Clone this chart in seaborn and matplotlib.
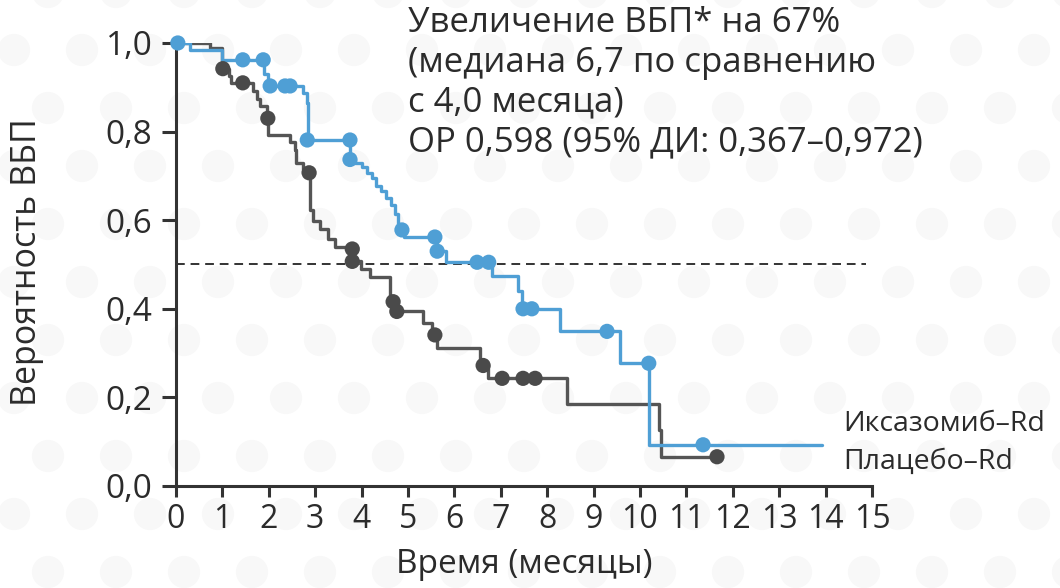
import matplotlib
matplotlib.use("Agg")
import matplotlib.pyplot as plt
import seaborn as sns
import pandas as pd
import numpy as np

sns.set_theme(style="white")
plt.rcParams["font.family"] = ["Open Sans", "DejaVu Sans"]

# Kaplan–Meier step curves (time in months, survival probability)
ixa_time = [0, 0.30, 0.99, 1.90, 1.98, 2.74, 2.82, 2.84, 3.75, 3.86, 4.01, 4.12,
            4.22, 4.31, 4.42, 4.53, 4.63, 4.72, 4.78, 4.91, 5.63, 5.82, 6.81,
            7.37, 7.46, 8.28, 9.57, 10.20, 13.92]
ixa_surv = [1.0, 0.984, 0.962, 0.931, 0.903, 0.887, 0.864, 0.781, 0.737, 0.730,
            0.719, 0.707, 0.696, 0.677, 0.666, 0.650, 0.634, 0.615, 0.578, 0.562,
            0.530, 0.505, 0.473, 0.440, 0.400, 0.349, 0.277, 0.093, 0.093]

pla_time = [0, 0.73, 0.99, 1.14, 1.18, 1.66, 1.75, 1.81, 1.96, 1.99, 2.46, 2.56,
            2.59, 2.74, 2.88, 2.95, 3.10, 3.28, 3.43, 3.80, 3.98, 4.18, 4.61,
            4.64, 4.74, 5.32, 5.52, 5.62, 6.55, 6.60, 6.72, 8.43, 10.41, 10.45,
            11.66]
pla_surv = [1.0, 0.988, 0.942, 0.926, 0.910, 0.892, 0.873, 0.857, 0.830, 0.793,
            0.777, 0.758, 0.730, 0.707, 0.622, 0.599, 0.580, 0.558, 0.539, 0.507,
            0.489, 0.471, 0.427, 0.416, 0.394, 0.367, 0.341, 0.312, 0.283, 0.272,
            0.243, 0.186, 0.126, 0.066, 0.066]

# Censored observations
ixa_cens_time = [0.04, 1.44, 1.88, 2.03, 2.35, 2.46, 2.83, 3.75, 3.75, 4.87,
                 5.58, 5.63, 6.49, 6.74, 7.48, 7.67, 9.29, 10.19, 11.36]
ixa_cens_surv = [1.0, 0.962, 0.962, 0.903, 0.903, 0.903, 0.781, 0.781, 0.737,
                 0.578, 0.562, 0.530, 0.505, 0.505, 0.400, 0.400, 0.349, 0.277,
                 0.093]
pla_cens_time = [1.01, 1.44, 1.98, 2.87, 3.80, 3.80, 4.68, 4.76, 5.58, 6.62,
                 7.03, 7.48, 7.74, 11.66]
pla_cens_surv = [0.942, 0.910, 0.830, 0.707, 0.535, 0.507, 0.416, 0.394, 0.341,
                 0.272, 0.243, 0.243, 0.243, 0.066]

series_labels = ["Иксазомиб–Rd", "Плацебо–Rd"]
x_ticks = list(range(0, 16))
y_ticks = [0.0, 0.2, 0.4, 0.6, 0.8, 1.0]
y_tick_labels = ["0,0", "0,2", "0,4", "0,6", "0,8", "1,0"]
median_level = 0.5
annotation = ("Увеличение ВБП* на 67%\n(медиана 6,7 по сравнению\n"
              "с 4,0 месяца)\nОР 0,598 (95% ДИ: 0,367–0,972)")

BLUE = "#4f9fd5"
GREY = "#555555"
DOT_GREY = "#4a4a4a"
TEXT = "#2b2b2b"

curves = pd.concat([
    pd.DataFrame({"t": ixa_time, "s": ixa_surv, "arm": series_labels[0]}),
    pd.DataFrame({"t": pla_time, "s": pla_surv, "arm": series_labels[1]}),
])
cens = pd.concat([
    pd.DataFrame({"t": ixa_cens_time, "s": ixa_cens_surv, "arm": series_labels[0]}),
    pd.DataFrame({"t": pla_cens_time, "s": pla_cens_surv, "arm": series_labels[1]}),
])
palette = {series_labels[0]: BLUE, series_labels[1]: GREY}
dot_palette = {series_labels[0]: BLUE, series_labels[1]: DOT_GREY}

fig = plt.figure(figsize=(10.6, 5.88), dpi=100)
fig.patch.set_facecolor("white")

# decorative backdrop: very faint polka-dot lattice (pixel coordinates)
bg = fig.add_axes([0, 0, 1, 1], zorder=-5)
bg.set_xlim(0, 1060)
bg.set_ylim(588, 0)
bg.axis("off")
bx, by = [], []
for row, yy in enumerate(np.arange(-8, 620, 58)):
    shift = 34 if row % 2 else 0
    for xx in np.arange(-20, 1100, 68):
        bx.append(xx + shift)
        by.append(yy)
bg.scatter(bx, by, s=540, color="#f8f8f8", edgecolors="none")

ax = fig.add_axes([0.166, 0.1735, 0.6566, 0.7534])

# median reference line
ax.plot([0, 14.87], [median_level, median_level], ls=(0, (4.5, 3)),
        color="#333333", lw=1.4, zorder=1)

# draw placebo first so the ixazomib curve sits on top
for arm in [series_labels[1], series_labels[0]]:
    sns.lineplot(data=curves[curves.arm == arm], x="t", y="s",
                 drawstyle="steps-post", color=palette[arm], lw=2.4,
                 estimator=None, sort=False, ax=ax, zorder=3, legend=False)
    sns.scatterplot(data=cens[cens.arm == arm], x="t", y="s",
                    color=dot_palette[arm], s=120, edgecolor="none",
                    ax=ax, zorder=4, legend=False, clip_on=False)

ax.set_xlim(0, 15)
ax.set_ylim(0, 1.0)
ax.set_xticks(x_ticks)
ax.set_xticklabels([str(v) for v in x_ticks])
ax.set_yticks(y_ticks)
ax.set_yticklabels(y_tick_labels)

for side in ["top", "right"]:
    ax.spines[side].set_visible(False)
for side in ["left", "bottom"]:
    ax.spines[side].set_color("#333333")
    ax.spines[side].set_linewidth(2.2)

ax.tick_params(axis="y", direction="out", length=10, width=2.2, color="#333333",
               labelsize=24, labelcolor=TEXT, pad=7, left=True)
ax.tick_params(axis="x", direction="out", length=8, width=2.2, color="#333333",
               labelsize=23, labelcolor=TEXT, pad=4, bottom=True)

ax.set_xlabel("Время (месяцы)", fontsize=24, color=TEXT)
ax.set_ylabel("Вероятность ВБП", fontsize=24.5, color=TEXT)
ax.xaxis.set_label_coords(0.5, -0.14)
ax.yaxis.set_label_coords(-0.19, 0.505)
ax.grid(False)
ax.set_facecolor("none")

fig.text(408 / 1060, 1 - 6 / 588, annotation, fontsize=25, color=TEXT,
         ha="left", va="top", linespacing=1.22)

fig.text(843 / 1060, 1 - 424 / 588, series_labels[0], fontsize=20.5, color=TEXT,
         ha="left", va="center")
fig.text(843 / 1060, 1 - 462 / 588, series_labels[1], fontsize=20.5, color=TEXT,
         ha="left", va="center")

fig.savefig("out.png", dpi=100, facecolor="white")
